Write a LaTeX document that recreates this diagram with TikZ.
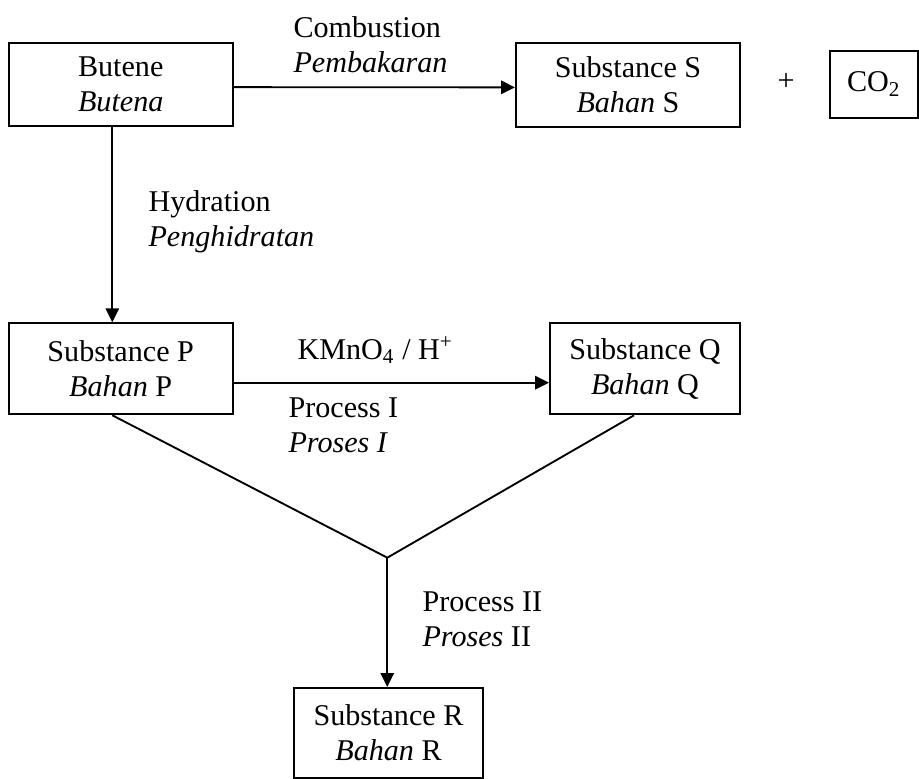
\documentclass[tikz,border=0pt]{standalone}
\usepackage{fontspec}
\setmainfont{Liberation Serif}
\usetikzlibrary{arrows.meta}

\begin{document}
\begin{tikzpicture}[x=0.375pt,y=-0.375pt,
  box/.style={draw,line width=0.75pt,inner sep=0pt,align=center,
    font=\fontsize{11.3}{13}\selectfont},
  arr/.style={line width=0.7pt,-{Triangle[length=5.2pt,width=5pt]}},
  lbl/.style={anchor=west,inner sep=0pt,align=left,
    font=\fontsize{11.3}{13}\selectfont}]
\useasboundingbox (0,0) rectangle (919,779);
% boxes
\node[box,minimum width=84pt,minimum height=31.2pt] (butene) at (120.7,84.5) {Butene\\\textit{Butena}};
\node[box,minimum width=84pt,minimum height=31.5pt] (subS) at (628,84.7) {Substance S\\\textit{Bahan} S};
\node[font=\fontsize{11.3}{13}\selectfont] (plus) at (786,82) {+};
\node[box,minimum width=33pt,minimum height=25.1pt] (co2) at (874,84.2) {CO\textsubscript{2}};
\node[box,minimum width=84pt,minimum height=34.1pt] (subP) at (120.7,368.8) {Substance P\\\textit{Bahan} P};
\node[box,minimum width=71.25pt,minimum height=34.1pt] (subQ) at (645,368.8) {Substance Q\\\textit{Bahan} Q};
\node[box,minimum width=70.9pt,minimum height=33.8pt] (subR) at (388.5,733) {Substance R\\\textit{Bahan} R};
\coordinate (J) at (387.3,557.7);
% connectors
\draw[arr] ([yshift=-1pt]butene.east) -- ([yshift=-1pt]subS.west);
\draw[arr] ([xshift=-3.15pt]butene.south) -- ([xshift=-3.15pt]subP.north);
\draw[arr] ([yshift=-5.2pt]subP.east) -- ([yshift=-5.2pt]subQ.west);
\draw[line width=0.7pt] ([xshift=-3.15pt]subP.south) -- (J) -- ([xshift=-4.1pt]subQ.south);
\draw[arr] (J) -- (J |- subR.north);
% labels
\node[lbl] (comb) at (293,45) {Combustion\\\textit{Pembakaran}};
\node[lbl] (hyd) at (148,221.5) {Hydration\\\textit{Penghidratan}};
\node[lbl] (kmno) at (297,350) {KMnO\textsubscript{4} / H\textsuperscript{+}};
\node[lbl] (proc1) at (288,425) {Process I\\\textit{Proses I}};
\node[lbl] (proc2) at (422,619.5) {Process II\\\textit{Proses} II};
\end{tikzpicture}
\end{document}
